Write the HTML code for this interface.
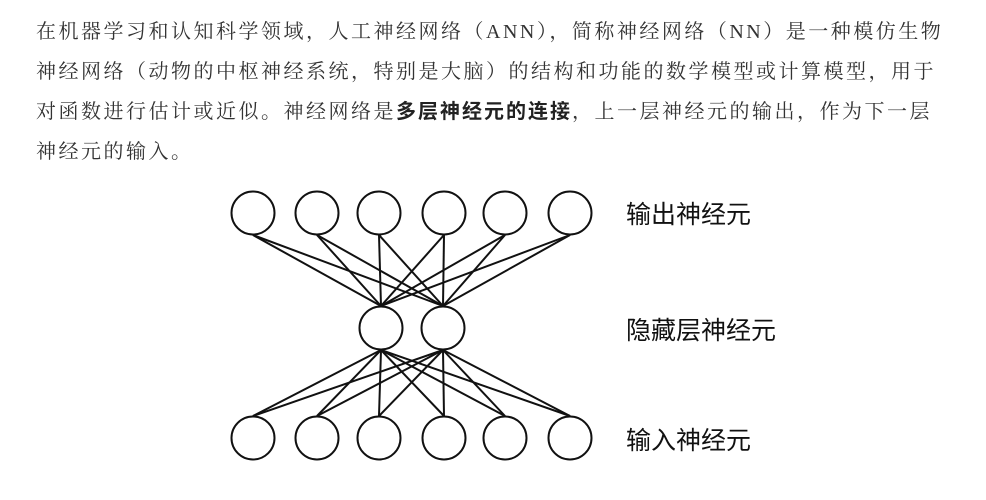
<!DOCTYPE html>
<html><head><meta charset="utf-8"><style>
html,body{margin:0;padding:0;background:#fff;width:986px;height:500px;overflow:hidden}
.t{position:absolute;left:36px;font-family:"Liberation Serif","Noto Serif CJK SC",serif;font-size:20px;letter-spacing:2.5px;color:#333;white-space:nowrap;line-height:24px}
b{font-family:"Liberation Sans","Noto Sans CJK SC",sans-serif;font-weight:bold;color:#222;letter-spacing:2px}
</style></head><body>
<div class="t" style="top:20px">在机器学习和认知科学领域，人工神经网络（ANN），简称神经网络（NN）是一种模仿生物</div>
<div class="t" style="top:60px">神经网络（动物的中枢神经系统，特别是大脑）的结构和功能的数学模型或计算模型，用于</div>
<div class="t" style="top:100px">对函数进行估计或近似。神经网络是<b>多层神经元的连接</b>，上一层神经元的输出，作为下一层</div>
<div class="t" style="top:140px">神经元的输入。</div>
<svg width="986" height="500" style="position:absolute;left:0;top:0">
<g fill="#fff" stroke="#111" stroke-width="2">
<circle cx="253" cy="213" r="21.5"/><circle cx="317" cy="213" r="21.5"/><circle cx="379" cy="213" r="21.5"/><circle cx="444" cy="213" r="21.5"/><circle cx="505" cy="213" r="21.5"/><circle cx="570" cy="213" r="21.5"/>
<circle cx="381" cy="328" r="21.5"/><circle cx="443" cy="328" r="21.5"/>
<circle cx="253" cy="438" r="21.5"/><circle cx="317" cy="438" r="21.5"/><circle cx="379" cy="438" r="21.5"/><circle cx="444" cy="438" r="21.5"/><circle cx="505" cy="438" r="21.5"/><circle cx="570" cy="438" r="21.5"/>
</g>
<g stroke="#111" stroke-width="2">
<line x1="253" y1="235" x2="381" y2="306"/><line x1="253" y1="235" x2="443" y2="306"/>
<line x1="317" y1="235" x2="381" y2="306"/><line x1="317" y1="235" x2="443" y2="306"/>
<line x1="379" y1="235" x2="381" y2="306"/><line x1="379" y1="235" x2="443" y2="306"/>
<line x1="444" y1="235" x2="381" y2="306"/><line x1="444" y1="235" x2="443" y2="306"/>
<line x1="505" y1="235" x2="381" y2="306"/><line x1="505" y1="235" x2="443" y2="306"/>
<line x1="570" y1="235" x2="381" y2="306"/><line x1="570" y1="235" x2="443" y2="306"/>
<line x1="381" y1="350" x2="253" y2="416"/><line x1="443" y1="350" x2="253" y2="416"/>
<line x1="381" y1="350" x2="317" y2="416"/><line x1="443" y1="350" x2="317" y2="416"/>
<line x1="381" y1="350" x2="379" y2="416"/><line x1="443" y1="350" x2="379" y2="416"/>
<line x1="381" y1="350" x2="444" y2="416"/><line x1="443" y1="350" x2="444" y2="416"/>
<line x1="381" y1="350" x2="505" y2="416"/><line x1="443" y1="350" x2="505" y2="416"/>
<line x1="381" y1="350" x2="570" y2="416"/><line x1="443" y1="350" x2="570" y2="416"/>
</g>
<g font-family="Liberation Sans,Noto Sans CJK SC,sans-serif" font-size="25" fill="#111">
<text x="626" y="223">输出神经元</text>
<text x="626" y="339">隐藏层神经元</text>
<text x="626" y="449">输入神经元</text>
</g>
</svg>
</body></html>
